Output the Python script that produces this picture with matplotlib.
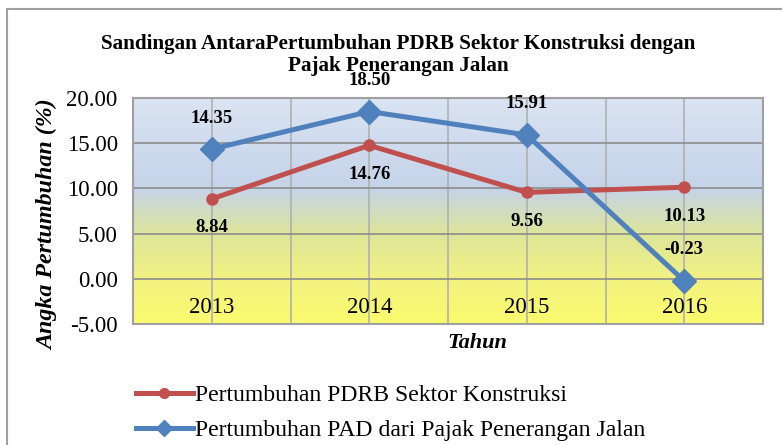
import matplotlib
matplotlib.use("Agg")
import matplotlib.pyplot as plt
import numpy as np
from matplotlib.colors import LinearSegmentedColormap
from matplotlib.lines import Line2D
from matplotlib.patches import Rectangle

years = ["2013", "2014", "2015", "2016"]
pdrb = [8.84, 14.76, 9.56, 10.13]
pad = [14.35, 18.50, 15.91, -0.23]
yticks = [-5, 0, 5, 10, 15, 20]

title = "Sandingan AntaraPertumbuhan PDRB Sektor Konstruksi dengan\nPajak Penerangan Jalan"
ylabel = "Angka Pertumbuhan (%)"
xlabel = "Tahun"
label_pdrb = "Pertumbuhan PDRB Sektor Konstruksi"
label_pad = "Pertumbuhan PAD dari Pajak Penerangan Jalan"

red = "#c0504d"
blue = "#4f81bd"
serif = ["Liberation Serif", "DejaVu Serif"]
plt.rcParams["font.family"] = serif

W, H = 782, 445
fig = plt.figure(figsize=(W / 100, H / 100), dpi=100)
# axes in pixel coords: x 133..763, y 98..324
ax = fig.add_axes([133 / W, 1 - 324 / H, (763 - 133) / W, (324 - 98) / H])
ax.set_xlim(-0.5, 3.5)
ax.set_ylim(-5, 20)

# gradient background
cmap = LinearSegmentedColormap.from_list(
    "bg",
    [(0.0, "#fbfb6e"), (0.2, "#f2f282"), (0.4, "#dde69a"), (0.6, "#c5d3e9"), (1.0, "#dae4f2")],
)
grad = np.linspace(0, 1, 256).reshape(-1, 1)
ax.imshow(grad, aspect="auto", cmap=cmap, origin="lower",
          extent=[-0.5, 3.5, -5, 20], zorder=0)

# grid
for v in np.arange(-0.5, 3.51, 0.5):
    ax.axvline(v, color="#b0b0b0", lw=1.2, zorder=1)
for t in yticks:
    ax.axhline(t, color="#8c8c8c", lw=1.2, zorder=1)

x = np.arange(len(years))
ax.plot(x, pdrb, color=red, lw=3.6, marker="o", ms=8, zorder=3)
ax.plot(x, pad, color=blue, lw=3.6, marker="D", ms=12, zorder=4)

for xi, v in zip(x, pdrb):
    ax.annotate(f"{v:.2f}", (xi, v), xytext=(0, -29), textcoords="offset pixels",
                ha="center", va="center", fontsize=13.5, fontweight="bold", zorder=5)
for xi, v in zip(x, pad):
    ax.annotate(f"{v:.2f}", (xi, v), xytext=(0, 31), textcoords="offset pixels",
                ha="center", va="center", fontsize=13.5, fontweight="bold", zorder=5,
                annotation_clip=False)

for xi, yr in zip(x, years):
    ax.text(xi, -3.15, yr, ha="center", va="center", fontsize=16.5, zorder=5)

ax.set_xticks([])
ax.set_yticks(yticks)
ax.set_yticklabels([f"{t:.2f}" for t in yticks], fontsize=16.5)
ax.tick_params(axis="y", length=0, pad=11)
for s in ax.spines.values():
    s.set_color("#a0a0a0")
    s.set_linewidth(1.5)
ax.set_zorder(2)

fig.text(477 / W, 1 - 343 / H, xlabel, ha="center", va="center",
         fontsize=16, fontweight="bold", fontstyle="italic")
fig.text(48 / W, 1 - 225 / H, ylabel, ha="center", va="center", rotation=90,
         fontsize=17.3, fontweight="bold", fontstyle="italic")
fig.text(398 / W, 1 - 55 / H, title, ha="center", va="center",
         fontsize=15.2, fontweight="bold", linespacing=1.1)

# legend
handles = [Line2D([], [], color=red, lw=3.6, marker="o", ms=7),
           Line2D([], [], color=blue, lw=3.6, marker="D", ms=8)]
fig.legend(handles, [label_pdrb, label_pad], loc="upper left",
           bbox_to_anchor=(126 / W, 1 - 375 / H), frameon=False, fontsize=17.1,
           handlelength=2.4, handletextpad=0.1, labelspacing=0.55, borderaxespad=0)

# figure border
fig.add_artist(Rectangle((7 / W, -0.1), 1.1, 1 - 9 / H + 0.1, transform=fig.transFigure,
                         fill=False, edgecolor="#a0a0a0", lw=1.5))

fig.savefig("out.png", dpi=100)
